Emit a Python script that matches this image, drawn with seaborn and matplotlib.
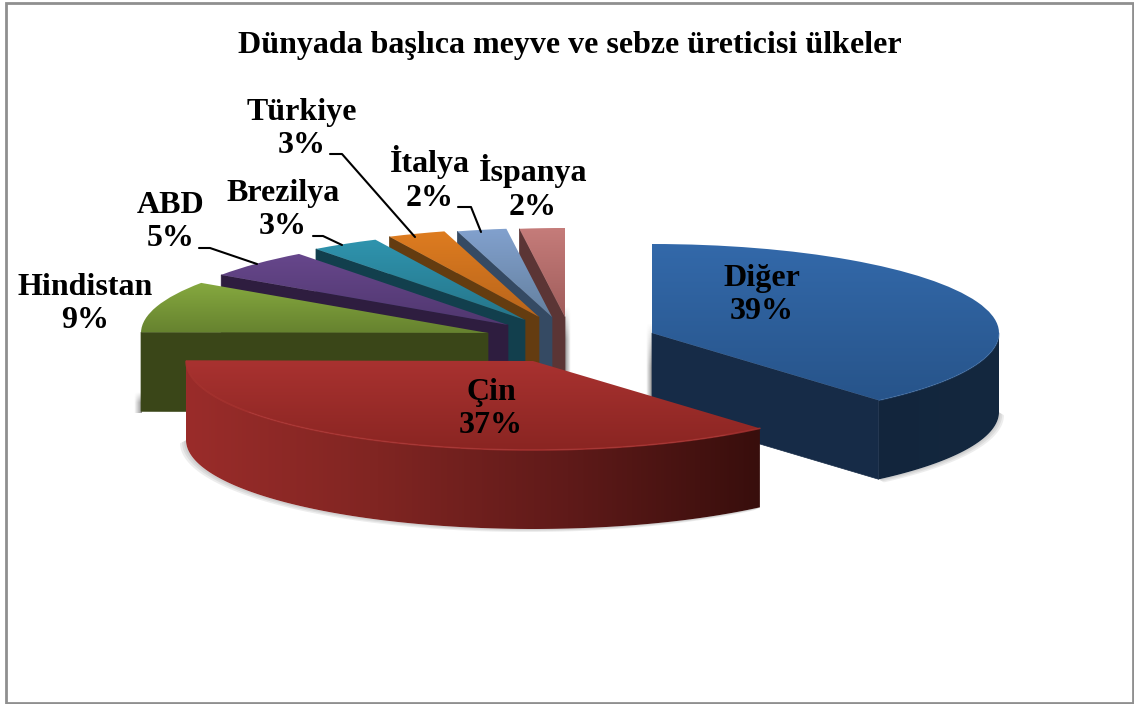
import numpy as np
import seaborn as sns
import matplotlib.pyplot as plt
from matplotlib.colors import LinearSegmentedColormap
from matplotlib.patches import Rectangle

# datos (porcentajes)
names = ['Diğer', 'Çin', 'Hindistan', 'ABD', 'Brezilya', 'Türkiye', 'İtalya', 'İspanya']
values = [38.7, 36.51, 9.4, 5.2, 3.2, 2.7, 2.3, 2.1]
title = 'Dünyada başlıca meyve ve sebze üreticisi ülkeler'

W, H = 1134, 704
RX, RY, DEPTH = 347, 89, 79

# estilo
top_light = ['#3369aa', '#a93230', '#86a93f', '#67478c', '#2f94ae', '#de7c20', '#82a1ce', '#c57c7a']
top_dark = ['#27548a', '#8a2522', '#66822f', '#50376f', '#25758a', '#b9651b', '#64809f', '#a05d5b']
wall_cols = [['#12253c', '#14283f'], ['#9a2c2a', '#802522', '#5f1a19', '#380e0c'], ['#3a4618'] * 2,
             ['#2e1d3f'] * 2, ['#123f4d'] * 2, ['#643c10'] * 2, ['#354a63'] * 2, ['#5b3535'] * 2]
cut_col = ['#162b47', '#380e0c', '#3a4618', '#2e1d3f', '#123f4d', '#643c10', '#354a63', '#5b3535']
rim_alpha = [0.35, 0.8, 0, 0, 0, 0, 0, 0]
apex_px = [(652, 333), (533, 361), (488, 333), (508, 325), (525, 320), (539, 317), (552, 317), (565, 317)]
rank = [1, 8, 7, 6, 5, 4, 3, 2]
label_px = [(762, 295), (491, 409), (85, 304), (171, 222), (283, 210), (302, 129), (430, 179), (533, 188)]
arc_shadow = {0: (5, 3), 1: (-6, 3)}
# sombras rectas: x de la pieza, x final, y0, y1
strip_shadow = [(142, 134, 392, 413), (565, 571, 306, 372), (652, 646, 322, 412)]
leaders = {
    'Türkiye': [(330, 154), (342, 154), (415, 237)],
    'Brezilya': [(313, 236), (323, 236), (342, 245)],
    'ABD': [(199, 248), (210, 248), (257, 264)],
    'İtalya': [(458, 207), (471, 207), (481, 232)],
}


def X(px):
    return np.asarray(px, dtype=float) / RX


def Y(py):
    return (H - np.asarray(py, dtype=float)) / RY


def gradient(clip, pts, cols, vertical, z):
    cmap = LinearSegmentedColormap.from_list('g', cols)
    ramp = np.linspace(0, 1, 256)
    ramp = ramp.reshape(-1, 1) if vertical else ramp.reshape(1, -1)
    ext = [pts[:, 0].min(), pts[:, 0].max(), pts[:, 1].min(), pts[:, 1].max()]
    im = ax.imshow(ramp, cmap=cmap, extent=ext, aspect='auto', origin='upper', zorder=z)
    im.set_clip_path(clip)


sns.set_theme(style='white')
plt.rcParams['font.family'] = ['Liberation Serif', 'DejaVu Serif']

fig = plt.figure(figsize=(W / 100, H / 100), dpi=100)
ax = fig.add_axes([0, 0, 1, 1])
wedges, _ = ax.pie(values, startangle=90, counterclock=False, radius=1, normalize=True)
ax.set_aspect('auto')
ax.set_xlim(0, W / RX)
ax.set_ylim(0, H / RY)
ax.set_autoscale_on(False)
depth = DEPTH / RY

# sombras rectas
for x0, x1, y0, y1 in strip_shadow:
    fx = np.linspace(1, 0, 12)[None, :]
    fy = np.clip(np.linspace(0, 2, 40), 0, 1)[:, None]
    rgba = np.zeros((40, 12, 4))
    rgba[..., :3] = 0.45
    rgba[..., 3] = 0.75 * fx * fy
    ax.imshow(rgba, extent=[X(x0), X(x1), Y(y1), Y(y0)], aspect='auto', origin='upper', zorder=2)

for i, w in enumerate(wedges):
    cx, cy = X(apex_px[i][0]), Y(apex_px[i][1])
    w.set_center((cx, cy))
    w.set_facecolor('none')
    w.set_edgecolor('none')
    w.set_zorder(rank[i] * 10)
    t1, t2 = w.theta1, w.theta2
    t = np.radians(np.linspace(t1, t2, 200))
    ax_x, ax_y = cx + np.cos(t), cy + np.sin(t)

    # pared del corte
    if np.sin(np.radians(t1 - 90)) < -0.01:
        edge = t1
    elif np.cos(np.radians(t2)) < -0.01:
        edge = t2
    else:
        edge = None
    if edge is not None:
        ex, ey = cx + np.cos(np.radians(edge)), cy + np.sin(np.radians(edge))
        ax.fill([cx, ex, ex, cx], [cy, ey, ey - depth, cy - depth],
                color=cut_col[i], lw=0.5, zorder=rank[i] * 10 + 1)

    # pared exterior (solo lo que mira al frente)
    m = np.sin(t) <= 0
    if m.sum() > 1:
        xs, ys = ax_x[m], ax_y[m]
        poly = ax.fill(np.r_[xs, xs[::-1]], np.r_[ys, ys[::-1] - depth],
                       facecolor='none', edgecolor='none', zorder=rank[i] * 10 + 1)[0]
        pts = np.c_[np.r_[xs, xs], np.r_[ys, ys - depth]]
        gradient(poly, pts, wall_cols[i], False, rank[i] * 10 + 1)
        ax.plot(xs, ys, color=top_light[i], lw=1.2, alpha=rim_alpha[i], zorder=rank[i] * 10 + 3)
        if i in arc_shadow:
            dx, dy = arc_shadow[i]
            for f in (1.0, 0.66, 0.33):
                ax.fill(np.r_[xs, (xs + f * dx / RX)[::-1]],
                        np.r_[ys - depth, (ys - depth - f * dy / RY)[::-1]],
                        color='#777777', alpha=0.13, lw=0, zorder=rank[i] * 10)

    # cara superior
    pts = np.c_[np.r_[cx, ax_x], np.r_[cy, ax_y]]
    gradient(w, pts, [top_light[i], top_dark[i]], True, rank[i] * 10 + 2)

# etiquetas
for name, v, (px, py) in zip(names, values, label_px):
    ax.text(X(px), Y(py), f'{name}\n{v:.0f}%', ha='center', va='center',
            fontsize=23, fontweight='bold', color='black', linespacing=1.22, zorder=100)

for pts in leaders.values():
    p = np.array(pts)
    ax.plot(X(p[:, 0]), Y(p[:, 1]), color='black', lw=1.5, zorder=90)

ax.text(X(570), Y(46), title, ha='center', va='center', fontsize=23,
        fontweight='bold', color='black', zorder=100)

# marco
fig.patches.append(Rectangle((6 / W, 1 / H), (W - 7) / W, (H - 4) / H, transform=fig.transFigure,
                             fill=False, edgecolor='#8f8f8f', lw=2))

fig.savefig('out.png', dpi=100, facecolor='white')
